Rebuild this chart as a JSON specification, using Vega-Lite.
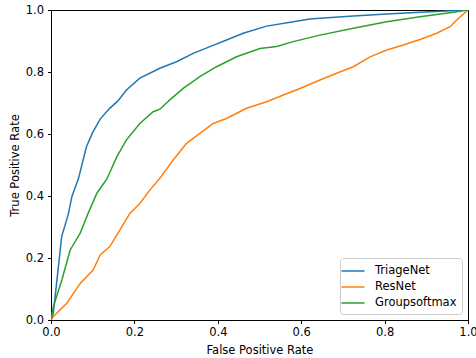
{
  "$schema": "https://vega.github.io/schema/vega-lite/v6.json",
  "autosize": {"type": "none"},
  "padding": {"left": 51, "top": 10, "right": 8, "bottom": 38},
  "width": 417,
  "height": 310,
  "background": "white",
  "config": {
    "font": "DejaVu Sans",
    "view": {"stroke": "black", "strokeWidth": 1},
    "axis": {
      "grid": false,
      "domainColor": "black",
      "tickColor": "black",
      "tickSize": 3.5,
      "labelFontSize": 11.5,
      "labelColor": "black",
      "titleFontSize": 11.5,
      "titleFontWeight": "normal",
      "titleColor": "black",
      "labelFlush": false
    }
  },
  "data": {"values": [
    {"model": "TriageNet", "fpr": 0, "tpr": 0},
    {"model": "TriageNet", "fpr": 0.0056, "tpr": 0.022},
    {"model": "TriageNet", "fpr": 0.0256, "tpr": 0.269},
    {"model": "TriageNet", "fpr": 0.042, "tpr": 0.344},
    {"model": "TriageNet", "fpr": 0.05, "tpr": 0.398},
    {"model": "TriageNet", "fpr": 0.066, "tpr": 0.457},
    {"model": "TriageNet", "fpr": 0.085, "tpr": 0.559},
    {"model": "TriageNet", "fpr": 0.1, "tpr": 0.605},
    {"model": "TriageNet", "fpr": 0.118, "tpr": 0.648},
    {"model": "TriageNet", "fpr": 0.14, "tpr": 0.682},
    {"model": "TriageNet", "fpr": 0.16, "tpr": 0.706},
    {"model": "TriageNet", "fpr": 0.181, "tpr": 0.742},
    {"model": "TriageNet", "fpr": 0.213, "tpr": 0.78},
    {"model": "TriageNet", "fpr": 0.261, "tpr": 0.812},
    {"model": "TriageNet", "fpr": 0.301, "tpr": 0.833},
    {"model": "TriageNet", "fpr": 0.341, "tpr": 0.86},
    {"model": "TriageNet", "fpr": 0.381, "tpr": 0.882},
    {"model": "TriageNet", "fpr": 0.421, "tpr": 0.903},
    {"model": "TriageNet", "fpr": 0.461, "tpr": 0.925},
    {"model": "TriageNet", "fpr": 0.517, "tpr": 0.948},
    {"model": "TriageNet", "fpr": 0.581, "tpr": 0.962},
    {"model": "TriageNet", "fpr": 0.621, "tpr": 0.971},
    {"model": "TriageNet", "fpr": 0.645, "tpr": 0.973},
    {"model": "TriageNet", "fpr": 0.725, "tpr": 0.981},
    {"model": "TriageNet", "fpr": 0.805, "tpr": 0.987},
    {"model": "TriageNet", "fpr": 0.885, "tpr": 0.993},
    {"model": "TriageNet", "fpr": 1, "tpr": 1},
    {"model": "ResNet", "fpr": 0, "tpr": 0},
    {"model": "ResNet", "fpr": 0.0056, "tpr": 0.011},
    {"model": "ResNet", "fpr": 0.038, "tpr": 0.054},
    {"model": "ResNet", "fpr": 0.07, "tpr": 0.118},
    {"model": "ResNet", "fpr": 0.101, "tpr": 0.161},
    {"model": "ResNet", "fpr": 0.118, "tpr": 0.21},
    {"model": "ResNet", "fpr": 0.141, "tpr": 0.237},
    {"model": "ResNet", "fpr": 0.165, "tpr": 0.29},
    {"model": "ResNet", "fpr": 0.189, "tpr": 0.344},
    {"model": "ResNet", "fpr": 0.213, "tpr": 0.376},
    {"model": "ResNet", "fpr": 0.237, "tpr": 0.419},
    {"model": "ResNet", "fpr": 0.261, "tpr": 0.457},
    {"model": "ResNet", "fpr": 0.293, "tpr": 0.516},
    {"model": "ResNet", "fpr": 0.325, "tpr": 0.57},
    {"model": "ResNet", "fpr": 0.357, "tpr": 0.602},
    {"model": "ResNet", "fpr": 0.389, "tpr": 0.634},
    {"model": "ResNet", "fpr": 0.421, "tpr": 0.65},
    {"model": "ResNet", "fpr": 0.469, "tpr": 0.683},
    {"model": "ResNet", "fpr": 0.517, "tpr": 0.704},
    {"model": "ResNet", "fpr": 0.557, "tpr": 0.726},
    {"model": "ResNet", "fpr": 0.597, "tpr": 0.747},
    {"model": "ResNet", "fpr": 0.645, "tpr": 0.774},
    {"model": "ResNet", "fpr": 0.685, "tpr": 0.796},
    {"model": "ResNet", "fpr": 0.725, "tpr": 0.817},
    {"model": "ResNet", "fpr": 0.765, "tpr": 0.849},
    {"model": "ResNet", "fpr": 0.805, "tpr": 0.871},
    {"model": "ResNet", "fpr": 0.845, "tpr": 0.887},
    {"model": "ResNet", "fpr": 0.885, "tpr": 0.905},
    {"model": "ResNet", "fpr": 0.925, "tpr": 0.925},
    {"model": "ResNet", "fpr": 0.957, "tpr": 0.946},
    {"model": "ResNet", "fpr": 0.973, "tpr": 0.968},
    {"model": "ResNet", "fpr": 1, "tpr": 1},
    {"model": "Groupsoftmax", "fpr": 0, "tpr": 0},
    {"model": "Groupsoftmax", "fpr": 0.0056, "tpr": 0.043},
    {"model": "Groupsoftmax", "fpr": 0.026, "tpr": 0.129},
    {"model": "Groupsoftmax", "fpr": 0.046, "tpr": 0.226},
    {"model": "Groupsoftmax", "fpr": 0.07, "tpr": 0.28},
    {"model": "Groupsoftmax", "fpr": 0.089, "tpr": 0.344},
    {"model": "Groupsoftmax", "fpr": 0.11, "tpr": 0.409},
    {"model": "Groupsoftmax", "fpr": 0.134, "tpr": 0.455},
    {"model": "Groupsoftmax", "fpr": 0.158, "tpr": 0.527},
    {"model": "Groupsoftmax", "fpr": 0.181, "tpr": 0.581},
    {"model": "Groupsoftmax", "fpr": 0.213, "tpr": 0.634},
    {"model": "Groupsoftmax", "fpr": 0.245, "tpr": 0.672},
    {"model": "Groupsoftmax", "fpr": 0.261, "tpr": 0.68},
    {"model": "Groupsoftmax", "fpr": 0.285, "tpr": 0.71},
    {"model": "Groupsoftmax", "fpr": 0.317, "tpr": 0.747},
    {"model": "Groupsoftmax", "fpr": 0.357, "tpr": 0.785},
    {"model": "Groupsoftmax", "fpr": 0.397, "tpr": 0.817},
    {"model": "Groupsoftmax", "fpr": 0.445, "tpr": 0.849},
    {"model": "Groupsoftmax", "fpr": 0.501, "tpr": 0.876},
    {"model": "Groupsoftmax", "fpr": 0.541, "tpr": 0.882},
    {"model": "Groupsoftmax", "fpr": 0.581, "tpr": 0.898},
    {"model": "Groupsoftmax", "fpr": 0.645, "tpr": 0.919},
    {"model": "Groupsoftmax", "fpr": 0.725, "tpr": 0.941},
    {"model": "Groupsoftmax", "fpr": 0.805, "tpr": 0.962},
    {"model": "Groupsoftmax", "fpr": 0.885, "tpr": 0.978},
    {"model": "Groupsoftmax", "fpr": 0.965, "tpr": 0.993},
    {"model": "Groupsoftmax", "fpr": 1, "tpr": 1}
  ]},
  "mark": {"type": "line", "strokeWidth": 1.5, "clip": true},
  "encoding": {
    "x": {"field": "fpr", "type": "quantitative", "title": "False Positive Rate",
          "scale": {"domain": [0, 1], "nice": false},
          "axis": {"values": [0, 0.2, 0.4, 0.6, 0.8, 1], "format": ".1f", "labelPadding": 3, "titlePadding": 6}},
    "y": {"field": "tpr", "type": "quantitative", "title": "True Positive Rate",
          "scale": {"domain": [0, 1], "nice": false},
          "axis": {"values": [0, 0.2, 0.4, 0.6, 0.8, 1], "format": ".1f", "labelPadding": 4, "titlePadding": 5}},
    "color": {"field": "model", "type": "nominal",
              "scale": {"domain": ["TriageNet", "ResNet", "Groupsoftmax"], "range": ["#1f77b4", "#ff7f0e", "#2ca02c"]},
              "legend": {"title": null, "orient": "bottom-right", "offset": 6,
                         "symbolType": "M-1.65,0H1.65", "symbolSize": 196, "symbolStrokeWidth": 1.5,
                         "symbolFillColor": "transparent",
                         "labelFontSize": 11.5, "labelColor": "black", "labelOffset": 14, "rowPadding": 2,
                         "fillColor": "white", "strokeColor": "#cccccc", "cornerRadius": 3, "padding": 5}}
  }
}
